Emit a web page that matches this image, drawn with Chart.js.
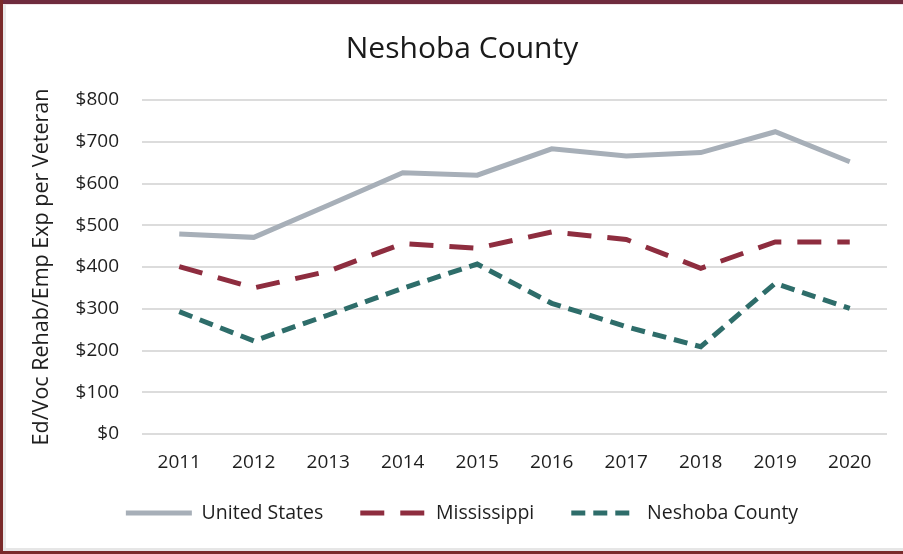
<!DOCTYPE html>
<html>
<head>
<meta charset="utf-8">
<script src="https://cdn.jsdelivr.net/npm/chart.js@4.4.1/dist/chart.umd.min.js"></script>
<style>
  html, body { margin: 0; padding: 0; background: #fff; }
  #frame { position: absolute; left: 0; top: 0; width: 903px; height: 554px; overflow: hidden; background: #fff; }
  #chart { position: absolute; left: 4px; top: 5px; }
  .bar { position: absolute; z-index: 5; }
</style>
</head>
<body>
<div id="frame">
  <canvas id="chart" width="916" height="560"></canvas>
  <div class="bar" style="left:3px;top:4px;width:3px;height:547px;background:#e9e9e9"></div>
  <div class="bar" style="left:3px;top:548px;width:900px;height:3px;background:#e6e6e6"></div>
  <div class="bar" style="left:0;top:4px;width:903px;height:1px;background:#f1e4e7"></div>
  <div class="bar" style="left:0;top:0;width:903px;height:4px;background:#6f2b3e"></div>
  <div class="bar" style="left:0;top:0;width:3px;height:554px;background:#7a2a2a"></div>
  <div class="bar" style="left:0;top:551px;width:903px;height:3px;background:#7a2a2a"></div>
</div>
<script>
// ---- Data ----
const years = ['2011', '2012', '2013', '2014', '2015', '2016', '2017', '2018', '2019', '2020'];
const unitedStates = [479, 471, 548, 626, 620, 683, 666, 674, 724, 652];
const mississippi = [401, 350, 390, 456, 445, 484, 466, 397, 460, 460];
const neshobaCounty = [293, 223, 285, 349, 407, 313, 257, 209, 361, 301];
const seriesNames = ['United States', 'Mississippi', 'Neshoba County'];
const chartTitle = 'Neshoba County';
const yAxisTitle = 'Ed/Voc Rehab/Emp Exp per Veteran';

const legendShift = {
  id: 'legendShift',
  afterLayout(chart) {
    const l = chart.legend;
    if (l) { l.top -= 9.75; l.bottom -= 9.75; }
  }
};

function draw() {
  Chart.defaults.font.family = "'Open Sans', sans-serif";
  Chart.defaults.color = '#1e1e1e';
  const ctx = document.getElementById('chart').getContext('2d');
  new Chart(ctx, {
    type: 'line',
    data: {
      labels: years,
      datasets: [
        { label: seriesNames[0], data: unitedStates, borderColor: '#a7afb8', backgroundColor: '#a7afb8',
          borderWidth: 5, pointRadius: 0, tension: 0 },
        { label: seriesNames[1], data: mississippi, borderColor: '#8e2d3f', backgroundColor: '#8e2d3f',
          borderWidth: 5, borderDash: [24, 16], pointRadius: 0, tension: 0 },
        { label: seriesNames[2], data: neshobaCounty, borderColor: '#2e6d6a', backgroundColor: '#2e6d6a',
          borderWidth: 5, borderDash: [14, 8], pointRadius: 0, tension: 0 }
      ]
    },
    plugins: [legendShift],
    options: {
      responsive: false,
      animation: false,
      devicePixelRatio: 1,
      layout: { padding: { left: 33, right: 33, top: 0, bottom: 22.5 } },
      plugins: {
        title: {
          display: true, text: chartTitle,
          font: { size: 30, weight: 'normal' }, color: '#1a1a1a',
          padding: { top: 26, bottom: 33 }
        },
        legend: {
          position: 'bottom',
          labels: {
            usePointStyle: true, pointStyle: 'line', pointStyleWidth: 66,
            padding: 37, font: { size: 19.5 }, color: '#1e1e1e',
            generateLabels: (chart) => {
              const items = Chart.defaults.plugins.legend.labels.generateLabels(chart);
              items.forEach((it) => {
                const ds = chart.data.datasets[it.datasetIndex];
                it.lineDash = ds.borderDash || [];
                it.lineWidth = ds.borderWidth;
                it.strokeStyle = ds.borderColor;
                it.fillStyle = ds.borderColor;
                it.pointStyle = 'line';
                it.lineCap = 'butt';
              });
              return items;
            }
          }
        },
        tooltip: { enabled: false }
      },
      scales: {
        x: {
          offset: true,
          grid: { display: false, drawTicks: false },
          border: { display: false },
          ticks: { font: { size: 19 }, padding: 17, color: '#1e1e1e', maxRotation: 0 },
          afterFit: (s) => { s.height = 42; }
        },
        y: {
          min: 0, max: 800,
          grid: { color: '#dcdcdc', lineWidth: 2, drawTicks: false },
          border: { display: false },
          ticks: { stepSize: 100, font: { size: 19 }, padding: 23, color: '#1e1e1e',
                   callback: (v) => '$' + v },
          title: { display: true, text: yAxisTitle, font: { size: 21.5, lineHeight: 0.4651 }, color: '#1e1e1e',
                   padding: { top: 0, bottom: 0 } },
          afterFit: (s) => { s.width = 105; }
        }
      }
    }
  });
}
if (document.fonts && document.fonts.load) {
  Promise.all([document.fonts.load('19px "Open Sans"')]).then(draw, draw);
} else { draw(); }
</script>
</body>
</html>
